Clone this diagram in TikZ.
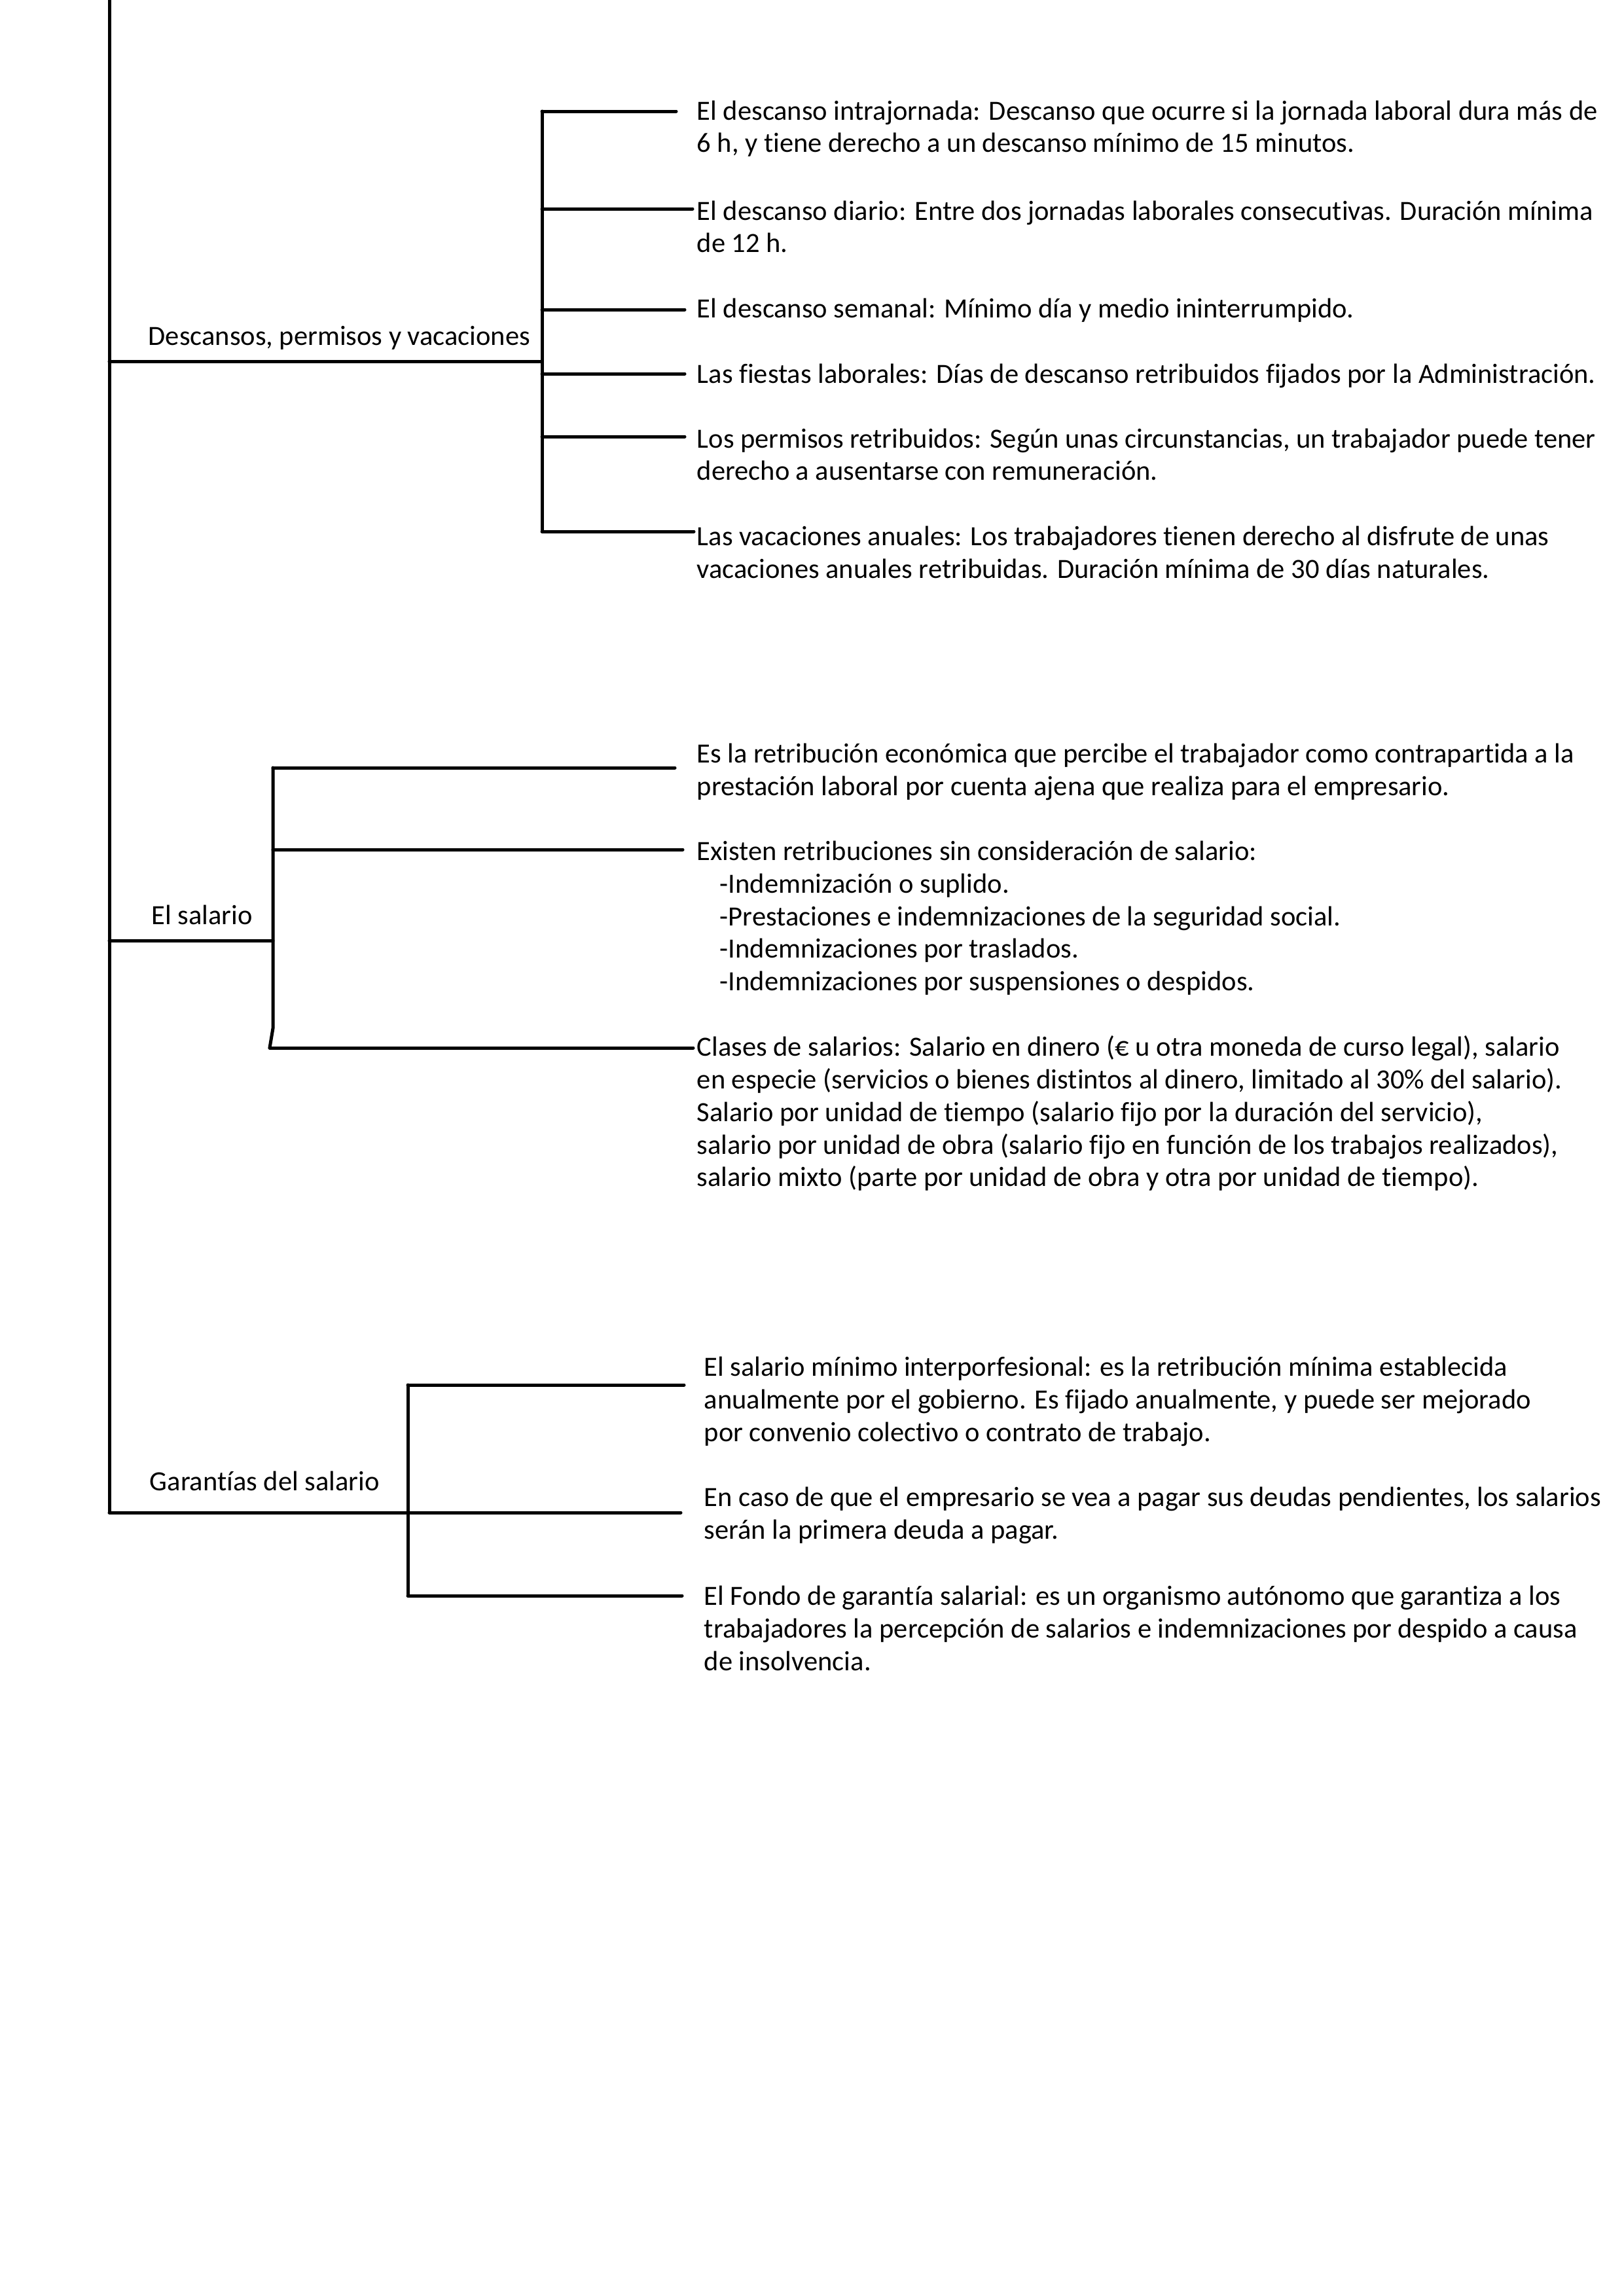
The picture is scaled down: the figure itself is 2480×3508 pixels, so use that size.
\documentclass[tikz,border=0pt]{standalone}
\usepackage{fontspec}
\setmainfont{Carlito}[Ligatures=NoCommon]
\begin{document}
\begin{tikzpicture}[x=0.24004pt,y=-0.24004pt,
  tree/.style={line width=1.2pt,line cap=round},
  lbl/.style={anchor=base west,inner sep=0pt,font=\fontsize{10.2}{12}\selectfont},
  txt/.style={anchor=base west,inner sep=0pt,font=\fontsize{10.2}{12}\selectfont}]
\useasboundingbox (0,0) rectangle (2480,3508);

% trunk
\coordinate (top) at (167,0);
\coordinate (jD) at (167,552);
\coordinate (jS) at (167,1437);
\coordinate (jG) at (167,2311);
\draw[tree] (top) -- (jG);

% ---------- Descansos ----------
\coordinate (hD) at (828,552);
\coordinate (d1) at (828,170);  \coordinate (e1) at (1033,170);
\coordinate (d2) at (828,319);  \coordinate (e2) at (1058,319);
\coordinate (d3) at (828,473);  \coordinate (e3) at (1046,473);
\coordinate (d4) at (828,571);  \coordinate (e4) at (1046,571);
\coordinate (d5) at (828,667);  \coordinate (e5) at (1046,667);
\coordinate (d6) at (828,812);  \coordinate (e6) at (1060,812);
\draw[tree] (jD) -- (hD);
\draw[tree] (d1) -- (d6);
\foreach \i in {1,...,6} {\draw[tree] (d\i) -- (e\i);}
\node[lbl] (lD) at (226,527) {Descansos, permisos y vacaciones};

\node[txt] (t1) at (1064,183) {\begin{tabular}[t]{@{}l@{}}El descanso intrajornada: Descanso que ocurre si la jornada laboral dura más de\\6 h, y tiene derecho a un descanso mínimo de 15 minutos.\end{tabular}};
\node[txt] (t2) at (1064,336) {\begin{tabular}[t]{@{}l@{}}El descanso diario: Entre dos jornadas laborales consecutivas. Duración mínima\\de 12 h.\end{tabular}};
\node[txt] (t3) at (1064,485) {El descanso semanal: Mínimo día y medio ininterrumpido.};
\node[txt] (t4) at (1064,585) {Las fiestas laborales: Días de descanso retribuidos fijados por la Administración.};
\node[txt] (t5) at (1064,684) {\begin{tabular}[t]{@{}l@{}}Los permisos retribuidos: Según unas circunstancias, un trabajador puede tener\\derecho a ausentarse con remuneración.\end{tabular}};
\node[txt] (t6) at (1064,833) {\begin{tabular}[t]{@{}l@{}}Las vacaciones anuales: Los trabajadores tienen derecho al disfrute de unas\\vacaciones anuales retribuidas. Duración mínima de 30 días naturales.\end{tabular}};

% ---------- El salario ----------
\coordinate (hS) at (417,1437);
\coordinate (s1) at (417,1173); \coordinate (f1) at (1031,1173);
\coordinate (s2) at (417,1298); \coordinate (f2) at (1043,1298);
\coordinate (sk) at (417,1571);
\coordinate (s3) at (412,1601); \coordinate (f3) at (1059,1601);
\draw[tree] (jS) -- (hS);
\draw[tree] (s1) -- (sk) -- (s3);
\foreach \i in {1,2,3} {\draw[tree] (s\i) -- (f\i);}
\node[lbl] (lS) at (231,1412) {El salario};

\node[txt] (u1) at (1064,1165) {\begin{tabular}[t]{@{}l@{}}Es la retribución económica que percibe el trabajador como contrapartida a la\\prestación laboral por cuenta ajena que realiza para el empresario.\end{tabular}};
\node[txt] (u2) at (1064,1314) {\begin{tabular}[t]{@{}l@{}}Existen retribuciones sin consideración de salario:\\
\hspace*{8.4pt}-Indemnización o suplido.\\
\hspace*{8.4pt}-Prestaciones e indemnizaciones de la seguridad social.\\
\hspace*{8.4pt}-Indemnizaciones por traslados.\\
\hspace*{8.4pt}-Indemnizaciones por suspensiones o despidos.\end{tabular}};
\node[txt] (u3) at (1064,1613) {\begin{tabular}[t]{@{}l@{}}Clases de salarios: Salario en dinero (€ u otra moneda de curso legal), salario\\
en especie (servicios o bienes distintos al dinero, limitado al 30\% del salario).\\
Salario por unidad de tiempo (salario fijo por la duración del servicio),\\
salario por unidad de obra (salario fijo en función de los trabajos realizados),\\
salario mixto (parte por unidad de obra y otra por unidad de tiempo).\end{tabular}};

% ---------- Garantías ----------
\coordinate (hG) at (1040,2311);
\coordinate (g1) at (623,2116); \coordinate (k1) at (1045,2116);
\coordinate (g3) at (623,2438); \coordinate (k3) at (1042,2438);
\draw[tree] (jG) -- (hG);
\draw[tree] (g1) -- (g3);
\draw[tree] (g1) -- (k1);
\draw[tree] (g3) -- (k3);
\node[lbl] (lG) at (228,2277) {Garantías del salario};

\node[txt] (v1) at (1075,2102) {\begin{tabular}[t]{@{}l@{}}El salario mínimo interporfesional: es la retribución mínima establecida\\
anualmente por el gobierno. Es fijado anualmente, y puede ser mejorado\\
por convenio colectivo o contrato de trabajo.\end{tabular}};
\node[txt] (v2) at (1075,2301) {\begin{tabular}[t]{@{}l@{}}En caso de que el empresario se vea a pagar sus deudas pendientes, los salarios\\
serán la primera deuda a pagar.\end{tabular}};
\node[txt] (v3) at (1075,2452) {\begin{tabular}[t]{@{}l@{}}El Fondo de garantía salarial: es un organismo autónomo que garantiza a los\\
trabajadores la percepción de salarios e indemnizaciones por despido a causa\\
de insolvencia.\end{tabular}};
\end{tikzpicture}
\end{document}
